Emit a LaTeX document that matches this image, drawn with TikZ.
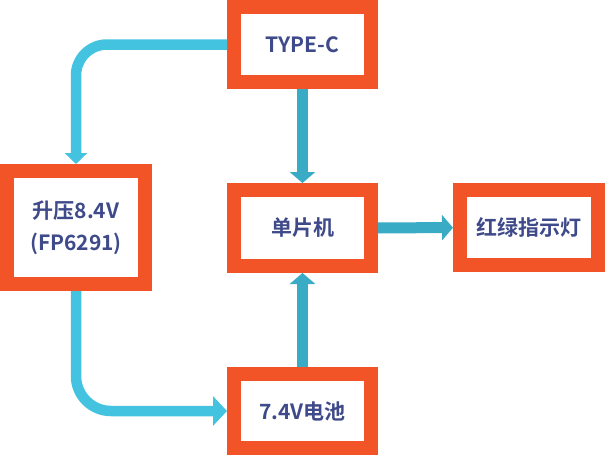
\documentclass[tikz,border=0pt]{standalone}
\usepackage{fontspec}
\newfontfamily\cjk{Noto Sans CJK SC}[BoldFont={Noto Sans CJK SC Bold}]
\usetikzlibrary{arrows.meta}
\definecolor{arancio}{HTML}{F25427}
\definecolor{testo}{HTML}{3E4A89}
\definecolor{azzurro}{HTML}{3AABC5}
\definecolor{ciano}{HTML}{43C3E0}
\tikzset{
  modulo/.style  = {rectangle, draw=arancio, line width=14pt, fill=white, minimum width=137pt, minimum height=75pt,
                    text=testo, align=center, font=\cjk\bfseries\fontsize{21}{32}\selectfont},
  freccia/.style = {azzurro, line width=11pt, -{Triangle[width=25pt,length=11pt]}},
  curva/.style   = {ciano, line width=10.5pt}
}

\begin{document}
\begin{tikzpicture}[x=1pt,y=-1pt]
  \useasboundingbox (0,0) rectangle (606,455);
  \node[modulo] (typec) at (302.5, 44.5) {TYPE-C};
  \node[modulo, minimum height=76pt] (mcu) at (302.5,228) {单片机};
  \node[modulo, minimum height=74pt] (batt) at (302.5,411) {7.4V电池};
  \node[modulo, minimum width=138pt, minimum height=113pt] (boost) at (76,227.5) {升压8.4V\\(FP6291)};
  \node[modulo, minimum width=138pt] (led) at (529,227.5) {红绿指示灯};
  \draw[freccia] (typec) -- (mcu);
  \draw[freccia] (mcu) -- (led);
  \draw[freccia] (batt) -- (mcu);
  \draw[curva, rounded corners=31pt, -{Triangle[width=22pt,length=11pt]}] (typec.west) -| (boost.north);
  \draw[curva, rounded corners=35pt, -{Triangle[width=29pt,length=14pt]}] (boost.south) |- (batt.west);
\end{tikzpicture}
\end{document}
